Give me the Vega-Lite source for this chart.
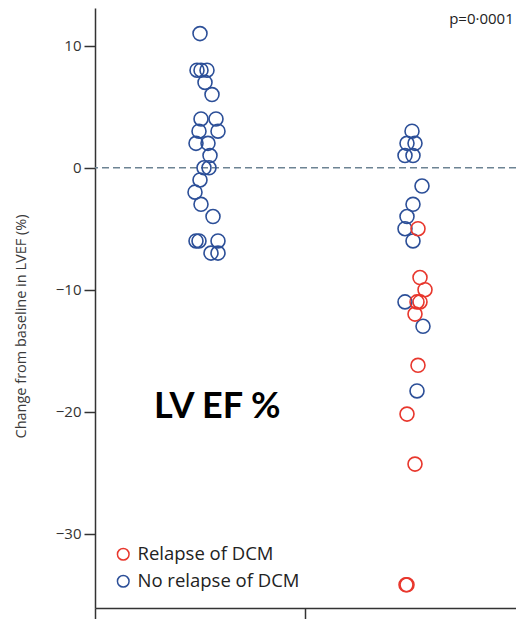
{
  "$schema": "https://vega.github.io/schema/vega-lite/v6.json",
  "width": 421,
  "height": 600,
  "autosize": "none",
  "padding": {"left": 95, "top": 8, "right": 0, "bottom": 11},
  "background": "white",
  "config": {
    "view": {"stroke": null},
    "font": "Open Sans"
  },
  "datasets": {
    "points": [
      {"group": "Continued", "jitter": -0.25, "change": 11, "status": "No relapse of DCM"},
      {"group": "Continued", "jitter": -3.25, "change": 8, "status": "No relapse of DCM"},
      {"group": "Continued", "jitter": 0.75, "change": 8, "status": "No relapse of DCM"},
      {"group": "Continued", "jitter": 6.75, "change": 8, "status": "No relapse of DCM"},
      {"group": "Continued", "jitter": 4.75, "change": 7, "status": "No relapse of DCM"},
      {"group": "Continued", "jitter": 11.75, "change": 6, "status": "No relapse of DCM"},
      {"group": "Continued", "jitter": 0.75, "change": 4, "status": "No relapse of DCM"},
      {"group": "Continued", "jitter": 15.75, "change": 4, "status": "No relapse of DCM"},
      {"group": "Continued", "jitter": -1.25, "change": 3, "status": "No relapse of DCM"},
      {"group": "Continued", "jitter": 17.75, "change": 3, "status": "No relapse of DCM"},
      {"group": "Continued", "jitter": -4.25, "change": 2, "status": "No relapse of DCM"},
      {"group": "Continued", "jitter": 7.75, "change": 2, "status": "No relapse of DCM"},
      {"group": "Continued", "jitter": 9.75, "change": 1, "status": "No relapse of DCM"},
      {"group": "Continued", "jitter": 3.75, "change": 0, "status": "No relapse of DCM"},
      {"group": "Continued", "jitter": 8.75, "change": 0, "status": "No relapse of DCM"},
      {"group": "Continued", "jitter": -0.25, "change": -1, "status": "No relapse of DCM"},
      {"group": "Continued", "jitter": -5.25, "change": -2, "status": "No relapse of DCM"},
      {"group": "Continued", "jitter": 0.75, "change": -3, "status": "No relapse of DCM"},
      {"group": "Continued", "jitter": 12.75, "change": -4, "status": "No relapse of DCM"},
      {"group": "Continued", "jitter": -4.25, "change": -6, "status": "No relapse of DCM"},
      {"group": "Continued", "jitter": -1.25, "change": -6, "status": "No relapse of DCM"},
      {"group": "Continued", "jitter": 17.75, "change": -6, "status": "No relapse of DCM"},
      {"group": "Continued", "jitter": 10.75, "change": -7, "status": "No relapse of DCM"},
      {"group": "Continued", "jitter": 17.75, "change": -7, "status": "No relapse of DCM"},
      {"group": "Withdrawn", "jitter": 1.25, "change": 3, "status": "No relapse of DCM"},
      {"group": "Withdrawn", "jitter": -3.75, "change": 2, "status": "No relapse of DCM"},
      {"group": "Withdrawn", "jitter": 4.25, "change": 2, "status": "No relapse of DCM"},
      {"group": "Withdrawn", "jitter": -5.75, "change": 1, "status": "No relapse of DCM"},
      {"group": "Withdrawn", "jitter": 2.25, "change": 1, "status": "No relapse of DCM"},
      {"group": "Withdrawn", "jitter": 11.25, "change": -1.5, "status": "No relapse of DCM"},
      {"group": "Withdrawn", "jitter": 2.25, "change": -3, "status": "No relapse of DCM"},
      {"group": "Withdrawn", "jitter": -3.75, "change": -4, "status": "No relapse of DCM"},
      {"group": "Withdrawn", "jitter": -5.75, "change": -5, "status": "No relapse of DCM"},
      {"group": "Withdrawn", "jitter": 2.25, "change": -6, "status": "No relapse of DCM"},
      {"group": "Withdrawn", "jitter": -5.75, "change": -11, "status": "No relapse of DCM"},
      {"group": "Withdrawn", "jitter": 12.25, "change": -13, "status": "No relapse of DCM"},
      {"group": "Withdrawn", "jitter": 6.25, "change": -18.3, "status": "No relapse of DCM"},
      {"group": "Withdrawn", "jitter": 7.25, "change": -5, "status": "Relapse of DCM"},
      {"group": "Withdrawn", "jitter": 9.25, "change": -9, "status": "Relapse of DCM"},
      {"group": "Withdrawn", "jitter": 14.25, "change": -10, "status": "Relapse of DCM"},
      {"group": "Withdrawn", "jitter": 6.25, "change": -11, "status": "Relapse of DCM"},
      {"group": "Withdrawn", "jitter": 9.25, "change": -11, "status": "Relapse of DCM"},
      {"group": "Withdrawn", "jitter": 4.25, "change": -12, "status": "Relapse of DCM"},
      {"group": "Withdrawn", "jitter": 7.25, "change": -16.2, "status": "Relapse of DCM"},
      {"group": "Withdrawn", "jitter": -3.75, "change": -20.2, "status": "Relapse of DCM"},
      {"group": "Withdrawn", "jitter": 4.25, "change": -24.3, "status": "Relapse of DCM"},
      {"group": "Withdrawn", "jitter": -4.75, "change": -34.2, "status": "Relapse of DCM"},
      {"group": "Withdrawn", "jitter": -3.75, "change": -34.2, "status": "Relapse of DCM"}
    ]
  },
  "layer": [
    {
      "data": {"values": [{"ref": 0}]},
      "mark": {"type": "rule", "color": "#6d8393", "strokeWidth": 1.3, "strokeDash": [7, 4]},
      "encoding": {
        "y": {"field": "ref", "type": "quantitative"}
      }
    },
    {
      "data": {"name": "points"},
      "mark": {"type": "point", "shape": "circle", "filled": false, "strokeWidth": 1.6, "size": 195, "opacity": 1},
      "encoding": {
        "x": {
          "field": "group", "type": "nominal",
          "scale": {"domain": ["Continued", "Withdrawn"], "paddingInner": 0, "paddingOuter": 0},
          "axis": {
            "title": null, "labels": false, "bandPosition": 0,
            "tickSize": 11, "tickColor": "#333", "tickWidth": 1.5,
            "domainColor": "#333", "domainWidth": 1.5, "grid": false
          }
        },
        "xOffset": {
          "field": "jitter", "type": "quantitative",
          "scale": {"domain": [-105.25, 105.25]}
        },
        "y": {
          "field": "change", "type": "quantitative",
          "scale": {"domain": [-36.1, 13.1], "nice": false, "zero": false},
          "axis": {
            "title": "Change from baseline in LVEF (%)",
            "values": [-30, -20, -10, 0, 10],
            "grid": false,
            "tickSize": 11, "tickColor": "#333", "tickWidth": 1.5,
            "domainColor": "#333", "domainWidth": 1.5,
            "labelFont": "Open Sans", "labelFontSize": 15, "labelColor": "#333", "labelPadding": 3,
            "titleFont": "Open Sans", "titleFontSize": 14.5, "titleFontWeight": "normal", "titleColor": "#3a3a3a",
            "titleX": -74, "titleY": 318, "titleBaseline": "middle"
          }
        },
        "color": {
          "field": "status", "type": "nominal",
          "scale": {"domain": ["Relapse of DCM", "No relapse of DCM"], "range": ["#e8372d", "#2c4f98"]},
          "legend": {
            "title": null, "orient": "none", "legendX": 19, "legendY": 537,
            "padding": 0, "symbolType": "circle", "symbolSize": 135, "symbolStrokeWidth": 1.5,
            "labelFont": "Open Sans", "labelFontSize": 18.5, "labelColor": "#222", "labelOffset": 5,
            "labelLimit": 400, "rowPadding": 8
          }
        }
      }
    },
    {
      "data": {"values": [{"label": "LV EF %"}]},
      "mark": {"type": "text", "font": "Lato", "fontWeight": "bold", "fontSize": 36, "color": "black", "align": "center", "baseline": "middle", "dx": 17},
      "encoding": {
        "x": {"datum": "Continued", "type": "nominal"},
        "y": {"datum": -19.6, "type": "quantitative"},
        "text": {"field": "label"}
      }
    },
    {
      "data": {"values": [{"label": "p=0·0001"}]},
      "mark": {"type": "text", "font": "Open Sans", "fontSize": 15, "color": "#222", "align": "right", "baseline": "middle", "dx": 103},
      "encoding": {
        "x": {"datum": "Withdrawn", "type": "nominal"},
        "y": {"datum": 12.2, "type": "quantitative"},
        "text": {"field": "label"}
      }
    }
  ]
}
